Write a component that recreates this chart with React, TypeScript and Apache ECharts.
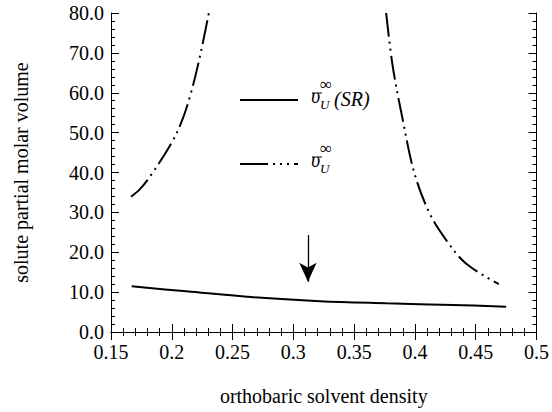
import React, { useEffect, useRef } from "react";
import * as echarts from "echarts";

const xTicks = [0.15, 0.2, 0.25, 0.3, 0.35, 0.4, 0.45, 0.5];
const yTicks = [0, 10, 20, 30, 40, 50, 60, 70, 80];

const srCurve: [number, number][] = [
  [0.167, 11.45], [0.212, 10.2], [0.267, 8.7], [0.322, 7.72],
  [0.3765, 7.2], [0.431, 6.78], [0.475, 6.35],
];
const fullLeft: [number, number][] = [
  [0.1664, 33.9], [0.174, 35.9], [0.183, 39.4], [0.1998, 47.4], [0.208, 52.7],
  [0.2149, 59.0], [0.2225, 68.2], [0.2305, 80],
];
const fullRight: [number, number][] = [
  [0.3763, 80], [0.3818, 66.5], [0.39, 53.2], [0.3996, 39.8], [0.412, 29.8],
  [0.4256, 23.1], [0.442, 17.2], [0.469, 12.0],
];
const arrowX = 0.312;
const arrowFrom = 24.3;
const arrowTo = 12.6;

const FONT = "'Liberation Serif', 'DejaVu Serif', serif";
const DASH = [24, 5, 2, 5, 2, 5];

export default function App() {
  const ref = useRef<HTMLDivElement>(null);
  useEffect(() => {
    if (!ref.current) return;
    const chart = echarts.init(ref.current, undefined, { renderer: "svg" });
    const xBase: any = {
      type: "value",
      min: xTicks[0],
      max: xTicks[xTicks.length - 1],
      interval: 0.05,
      splitLine: { show: false },
      axisLine: { lineStyle: { color: "#000", width: 1 } },
      axisTick: { inside: true, length: 8, lineStyle: { color: "#000" } },
      minorTick: { show: true, splitNumber: 5, length: 4, lineStyle: { color: "#000" } },
    };
    const yBase: any = {
      type: "value",
      min: yTicks[0],
      max: yTicks[yTicks.length - 1],
      interval: 10,
      splitLine: { show: false },
      axisLine: { show: true, lineStyle: { color: "#000", width: 1 } },
      axisTick: { show: true, inside: true, length: 8, lineStyle: { color: "#000" } },
      minorTick: { show: true, splitNumber: 5, length: 4, lineStyle: { color: "#000" } },
    };
    const lineSmooth = 0.35;
    chart.setOption({
      animation: false,
      backgroundColor: "#fff",
      grid: { left: 111, right: 15, top: 13, bottom: 80 },
      xAxis: [
        {
          ...xBase,
          position: "bottom",
          name: "orthobaric solvent density",
          nameLocation: "middle",
          nameGap: 54,
          nameTextStyle: { fontFamily: FONT, fontSize: 20, color: "#000" },
          axisLabel: {
            fontFamily: FONT,
            fontSize: 20,
            color: "#000",
            margin: 10,
            formatter: (v: number) => String(+v.toFixed(2)),
          },
        },
        { ...xBase, position: "top", axisLabel: { show: false } },
      ],
      yAxis: [
        {
          ...yBase,
          position: "left",
          name: "solute partial molar volume",
          nameLocation: "middle",
          nameGap: 80,
          nameTextStyle: { fontFamily: FONT, fontSize: 20, color: "#000" },
          axisLabel: {
            fontFamily: FONT,
            fontSize: 20,
            color: "#000",
            margin: 7,
            formatter: (v: number) => v.toFixed(1),
          },
        },
        { ...yBase, position: "right", axisLabel: { show: false } },
      ],
      series: [
        {
          type: "line",
          data: srCurve,
          smooth: lineSmooth,
          showSymbol: false,
          lineStyle: { color: "#000", width: 2 },
          markLine: {
            silent: true,
            animation: false,
            label: { show: false },
            lineStyle: { color: "#000", width: 1.3, type: "solid" },
            symbolSize: [13, 19],
            data: [
              [
                { coord: [arrowX, arrowFrom], symbol: "none" },
                { coord: [arrowX, arrowTo], symbol: "arrow" },
              ],
            ],
          },
        },
        {
          type: "line",
          data: fullLeft,
          smooth: lineSmooth,
          showSymbol: false,
          lineStyle: { color: "#000", width: 2, type: DASH },
        },
        {
          type: "line",
          data: fullRight,
          smooth: lineSmooth,
          showSymbol: false,
          lineStyle: { color: "#000", width: 2, type: DASH },
        },
      ],
      graphic: [
        { type: "line", shape: { x1: 240, y1: 100, x2: 298, y2: 100 }, style: { stroke: "#000", lineWidth: 2 } },
        { type: "line", shape: { x1: 240, y1: 164, x2: 298, y2: 164 }, style: { stroke: "#000", lineWidth: 2, lineDash: [28, 5, 2, 5, 2, 5, 2, 5] } },
        // legend label 1
        { type: "line", shape: { x1: 312, y1: 93, x2: 322, y2: 93 }, style: { stroke: "#000", lineWidth: 1 } },
        { type: "text", x: 311, y: 106, style: { text: "υ", font: `italic 20px ${FONT}`, fill: "#000", textVerticalAlign: "bottom" } },
        { type: "text", x: 320, y: 93, style: { text: "∞", font: `17px ${FONT}`, fill: "#000", textVerticalAlign: "bottom" } },
        { type: "text", x: 320, y: 111, style: { text: "U", font: `italic 13px ${FONT}`, fill: "#000", textVerticalAlign: "bottom" } },
        { type: "text", x: 334, y: 109, style: { text: "(SR)", font: `italic 20px ${FONT}`, fill: "#000", textVerticalAlign: "bottom" } },
        // legend label 2
        { type: "line", shape: { x1: 312, y1: 157, x2: 322, y2: 157 }, style: { stroke: "#000", lineWidth: 1 } },
        { type: "text", x: 311, y: 170, style: { text: "υ", font: `italic 20px ${FONT}`, fill: "#000", textVerticalAlign: "bottom" } },
        { type: "text", x: 320, y: 157, style: { text: "∞", font: `17px ${FONT}`, fill: "#000", textVerticalAlign: "bottom" } },
        { type: "text", x: 320, y: 175, style: { text: "U", font: `italic 13px ${FONT}`, fill: "#000", textVerticalAlign: "bottom" } },
      ],
    });
    return () => chart.dispose();
  }, []);
  return <div ref={ref} style={{ width: 552, height: 412, position: "absolute", left: 0, top: 0 }} />;
}
